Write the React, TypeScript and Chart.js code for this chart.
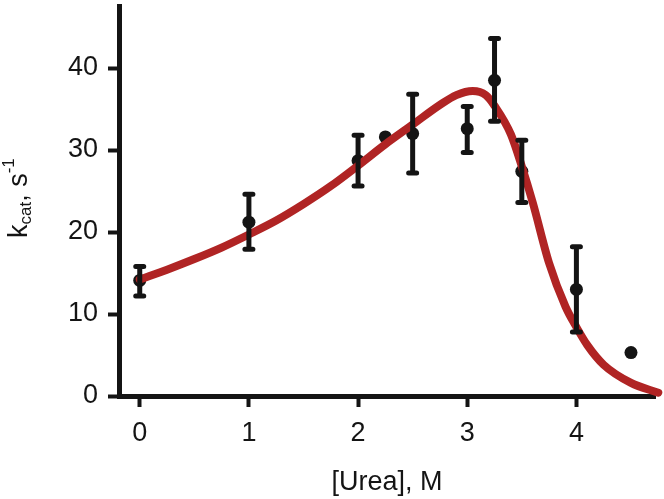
import React, { useEffect, useRef } from "react";
import { Chart, registerables } from "chart.js";

Chart.register(...registerables);

// Measured data: [Urea] (M) vs kcat (s^-1)
const ureaConc = [0, 1, 2, 2.25, 2.5, 3, 3.25, 3.5, 4, 4.5];
const kcatValues = [14.1, 21.2, 28.7, 31.6, 32.0, 32.6, 38.5, 27.4, 13.0, 5.3];
const errorUpper = [15.8, 24.6, 31.8, null, 36.8, 35.3, 43.6, 31.2, 18.2, null];
const errorLower = [12.2, 17.9, 25.6, null, 27.2, 29.7, 33.5, 23.6, 7.8, null];

// Fitted curve
const fitX = [0, 0.25, 0.5, 0.75, 1, 1.25, 1.5, 1.75, 2, 2.25, 2.5, 2.75, 2.9, 3.05, 3.17, 3.25, 3.4, 3.5, 3.6, 3.75, 3.9, 4, 4.1, 4.25, 4.5, 4.75];
const fitY = [14.2, 15.4, 16.7, 18.1, 19.7, 21.4, 23.4, 25.6, 28.1, 30.7, 33.1, 35.5, 36.7, 37.2, 36.7, 35.4, 31.9, 28.0, 23.6, 16.2, 10.9, 8.4, 6.2, 3.8, 1.6, 0.4];

const xTicks = [0, 1, 2, 3, 4];
const yTicks = [0, 10, 20, 30, 40];

const INK = "#141414";
const RED = "#b02424";
const FONT = 'Arial, "Liberation Sans", sans-serif';

const errorBarPlugin = {
  id: "errorBars",
  afterDatasetsDraw(chart: any) {
    const { ctx, scales } = chart;
    const xs = scales.x;
    const ys = scales.y;
    ctx.save();
    ctx.strokeStyle = INK;
    ctx.lineWidth = 5;
    ctx.lineCap = "round";
    for (let i = 0; i < ureaConc.length; i++) {
      const hi = errorUpper[i];
      const lo = errorLower[i];
      if (hi == null || lo == null) continue;
      const px = xs.getPixelForValue(ureaConc[i]);
      const pHi = ys.getPixelForValue(hi);
      const pLo = ys.getPixelForValue(lo);
      ctx.beginPath();
      ctx.moveTo(px, pHi);
      ctx.lineTo(px, pLo);
      ctx.moveTo(px - 4, pHi);
      ctx.lineTo(px + 4, pHi);
      ctx.moveTo(px - 4, pLo);
      ctx.lineTo(px + 4, pLo);
      ctx.stroke();
    }
    ctx.restore();
  },
};

const titlesPlugin = {
  id: "titles",
  afterDraw(chart: any) {
    const { ctx, chartArea } = chart;
    ctx.save();
    ctx.fillStyle = INK;
    // X title
    ctx.font = `27px ${FONT}`;
    ctx.textAlign = "center";
    ctx.textBaseline = "alphabetic";
    ctx.fillText("[Urea], M", (chartArea.left + chartArea.right) / 2, 490);
    // Y title with sub/superscript
    ctx.translate(27, 238);
    ctx.rotate(-Math.PI / 2);
    ctx.textAlign = "left";
    let x = 0;
    const big = `27px ${FONT}`;
    const small = `17px ${FONT}`;
    const parts: [string, string, number][] = [
      ["k", big, 0],
      ["cat", small, 4],
      [", ", big, 0],
      ["s", big, 0],
      ["-1", small, -13],
    ];
    for (const [t, f, dy] of parts) {
      ctx.font = f;
      ctx.fillText(t, x, dy);
      x += ctx.measureText(t).width;
    }
    ctx.restore();
  },
};

export default function App() {
  const ref = useRef<HTMLCanvasElement | null>(null);
  useEffect(() => {
    if (!ref.current) return;
    const chart = new Chart(ref.current, {
      type: "scatter",
      data: {
        datasets: [
          {
            type: "line",
            label: "fit",
            data: fitX.map((x, i) => ({ x, y: fitY[i] })),
            borderColor: RED,
            borderWidth: 8,
            pointRadius: 0,
            cubicInterpolationMode: "monotone",
            borderCapStyle: "round",
            clip: false as any,
            order: 1,
          },
          {
            type: "scatter",
            label: "data",
            data: ureaConc.map((x, i) => ({ x, y: kcatValues[i] })),
            backgroundColor: INK,
            borderColor: INK,
            pointRadius: 6.5,
            pointBorderWidth: 0,
            order: 2,
          },
        ],
      },
      options: {
        responsive: false,
        animation: false,
        layout: { padding: { left: 0, top: 4, right: 9, bottom: 0 } },
        plugins: { legend: { display: false }, tooltip: { enabled: false } },
        scales: {
          x: {
            type: "linear",
            min: -0.19,
            max: 4.72,
            afterBuildTicks: (s: any) => {
              s.ticks = xTicks.map((v) => ({ value: v }));
            },
            afterFit: (s: any) => {
              s.height = 103;
              s.paddingLeft = 0;
              s.paddingRight = 0;
            },
            grid: {
              display: true,
              drawOnChartArea: false,
              drawTicks: true,
              tickLength: 11,
              tickWidth: 4,
              tickColor: INK,
            },
            border: { display: true, width: 5, color: INK },
            ticks: {
              color: INK,
              font: { size: 27, family: FONT },
              padding: 10,
              maxRotation: 0,
            },
          },
          y: {
            type: "linear",
            min: 0,
            max: 47.5,
            afterBuildTicks: (s: any) => {
              s.ticks = yTicks.map((v) => ({ value: v }));
            },
            afterFit: (s: any) => {
              s.width = 119;
              s.paddingTop = 0;
              s.paddingBottom = 0;
            },
            grid: {
              display: true,
              drawOnChartArea: false,
              drawTicks: true,
              tickLength: 11,
              tickWidth: 4,
              tickColor: INK,
            },
            border: { display: true, width: 5, color: INK },
            ticks: {
              color: INK,
              font: { size: 27, family: FONT },
              padding: 10,
            },
          },
        },
      },
      plugins: [errorBarPlugin, titlesPlugin],
    } as any);
    return () => chart.destroy();
  }, []);
  return (
    <div style={{ position: "absolute", left: 0, top: 0, width: 664, height: 499, background: "#fff" }}>
      <canvas ref={ref} width={664} height={499} />
    </div>
  );
}
